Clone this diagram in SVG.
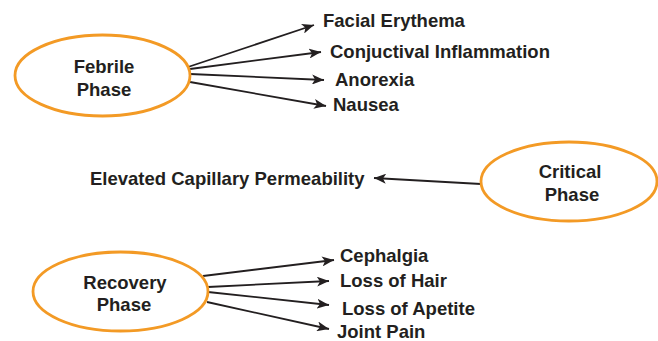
<svg xmlns="http://www.w3.org/2000/svg" width="658" height="341" viewBox="0 0 658 341">
<defs>
<style>
.node ellipse{fill:#fff;stroke:#F39A25;stroke-width:2.8}
text{font-family:"Liberation Sans",Arial,sans-serif;font-weight:bold;font-size:18.5px;fill:#231F20}
.c text{text-anchor:middle}
#connectors line{stroke:#231F20;stroke-width:1.8;marker-end:url(#ah)}
</style>
<marker id="ah" viewBox="0 0 12 10" refX="12" refY="5" markerWidth="12" markerHeight="10" markerUnits="userSpaceOnUse" orient="auto">
<path d="M0,0 L12,5 L0,10 L3,5 Z" fill="#231F20"/>
</marker>
</defs>
<rect width="658" height="341" fill="#fff"/>
<g id="connectors">
<line x1="188" y1="67" x2="314" y2="25"/>
<line x1="190" y1="69" x2="321" y2="52"/>
<line x1="190" y1="74" x2="324" y2="80"/>
<line x1="190" y1="82" x2="326" y2="106"/>
<line x1="481" y1="184" x2="374" y2="178"/>
<line x1="203" y1="276" x2="334" y2="260"/>
<line x1="208" y1="287" x2="329" y2="281"/>
<line x1="208" y1="292" x2="329" y2="305"/>
<line x1="207" y1="302" x2="329" y2="329"/>
</g>
<g id="febrile" class="node c">
<ellipse cx="102.5" cy="75.5" rx="87.5" ry="40.5"/>
<text x="104" y="73">Febrile</text>
<text x="104" y="96">Phase</text>
</g>
<g id="critical" class="node c">
<ellipse cx="569" cy="181.5" rx="88" ry="39.5"/>
<text x="570" y="178">Critical</text>
<text x="572" y="201">Phase</text>
</g>
<g id="recovery" class="node c">
<ellipse cx="120.5" cy="291.5" rx="87.5" ry="39.5"/>
<text x="125" y="289">Recovery</text>
<text x="124" y="311">Phase</text>
</g>
<g id="facial"><text x="323" y="27">Facial Erythema</text></g>
<g id="conj"><text x="330" y="58">Conjuctival Inflammation</text></g>
<g id="anorexia"><text x="335" y="86">Anorexia</text></g>
<g id="nausea"><text x="333" y="111">Nausea</text></g>
<g id="elevated"><text x="90" y="185">Elevated Capillary Permeability</text></g>
<g id="cephalgia"><text x="340" y="262">Cephalgia</text></g>
<g id="hair"><text x="340" y="287">Loss of Hair</text></g>
<g id="apetite"><text x="342" y="315">Loss of Apetite</text></g>
<g id="joint"><text x="337" y="337.5">Joint Pain</text></g>
</svg>
